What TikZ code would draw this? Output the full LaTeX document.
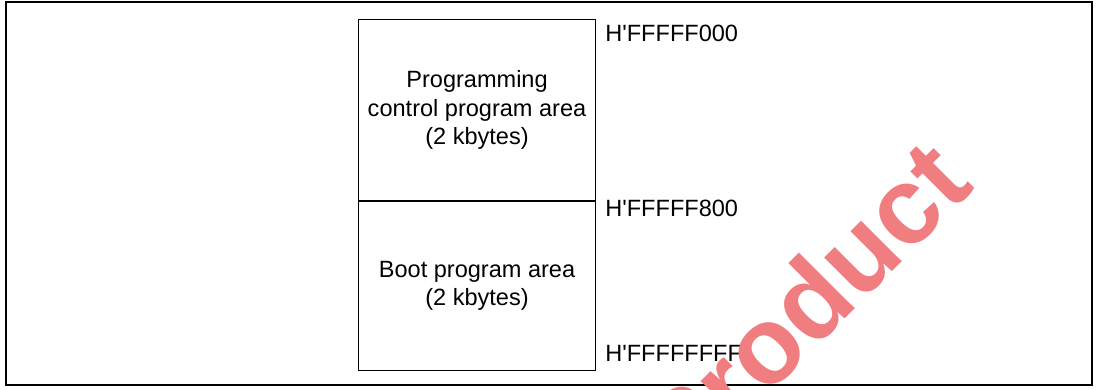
\documentclass[tikz,border=0pt]{standalone}
\usepackage{fontspec}
\setmainfont{Liberation Sans}
\usetikzlibrary{positioning}
\definecolor{stamp}{RGB}{240,125,128}
\newcommand{\memfont}{\fontsize{13.4}{16}\selectfont}
\tikzset{
  area/.style={draw, line width=0.6pt, minimum width=4.74cm, inner sep=0pt,
    align=center, font=\memfont},
  addr/.style={anchor=base west, inner sep=0pt, font=\memfont},
}
\begin{document}
\begin{tikzpicture}
  \useasboundingbox (0,0) rectangle (22,7.8);
  \draw[line width=0.8pt] (0.12,0.10) rectangle (21.84,7.76);
  % memory areas
  \node[area, minimum height=3.62cm, anchor=north west] (ctrl) at (7.16,7.42)
    {Programming\\control program area\\(2 kbytes)};
  \node[area, minimum height=3.38cm, anchor=north] (boot) at (ctrl.south)
    {Boot program area\\(2 kbytes)};
  % addresses
  \node[addr] (top) at (12.1,6.96) {H\textquotesingle FFFFF000};
  \node[addr] (mid) at (12.1,3.46) {H\textquotesingle FFFFF800};
  \node[addr] (end) at (12.1,0.56) {H\textquotesingle FFFFFFFF};
  % watermark
  \begin{scope}
    \clip (0,0) rectangle (22,7.8);
    \node[rotate=45, text=stamp, font=\fontsize{62}{62}\selectfont\bfseries] (mark)
      at (16.06,1.68) {Product};
  \end{scope}
\end{tikzpicture}
\end{document}
